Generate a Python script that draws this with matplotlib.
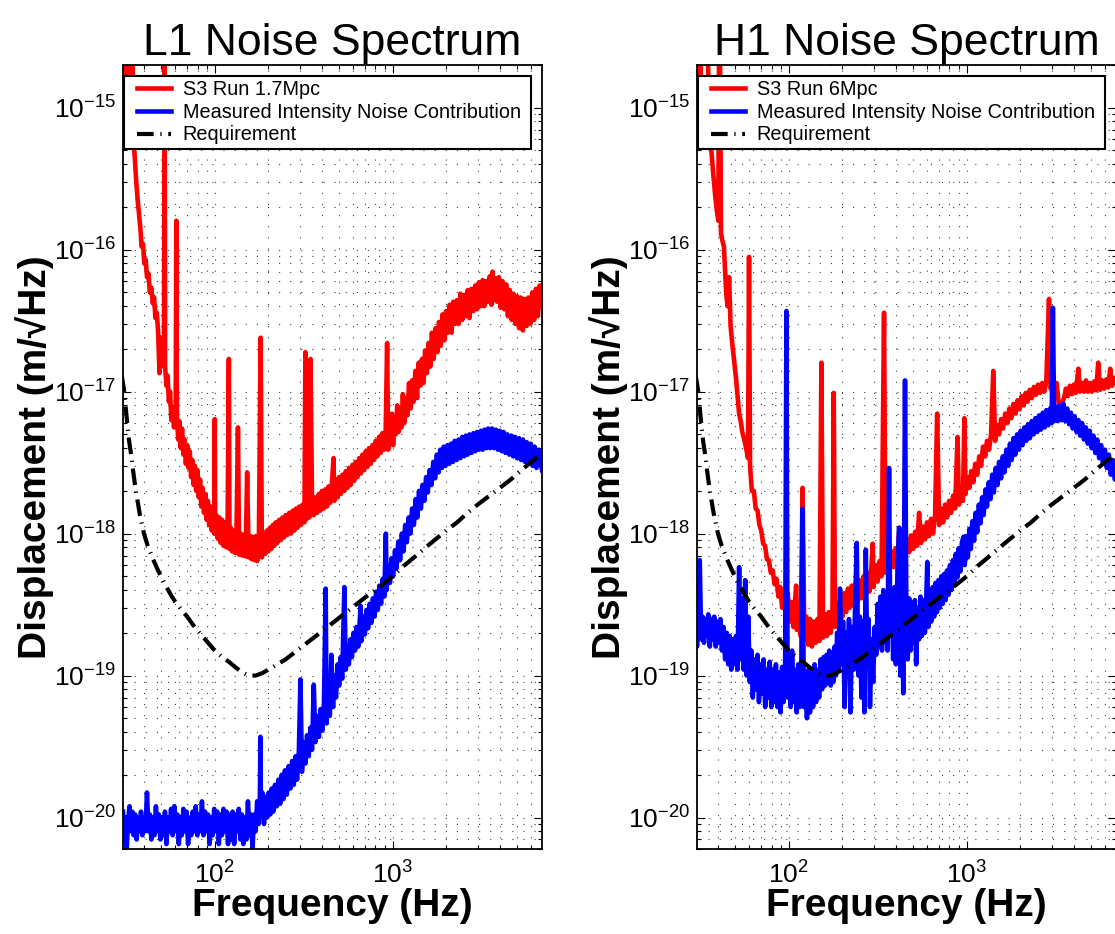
import matplotlib
matplotlib.use("Agg")
import matplotlib.pyplot as plt
from matplotlib.lines import Line2D
from matplotlib.legend_handler import HandlerLine2D
from matplotlib.ticker import FixedLocator, LogLocator, NullFormatter

plt.rcParams["font.family"] = ["Liberation Sans", "DejaVu Sans"]
plt.rcParams["mathtext.fontset"] = "custom"
plt.rcParams["mathtext.rm"] = "Liberation Sans"
plt.rcParams["mathtext.it"] = "Liberation Sans:italic"
plt.rcParams["mathtext.bf"] = "Liberation Sans:bold"

# (frequency Hz, displacement m/rtHz)
l1_s3 = [
    (31, 1.3e-15), (31.4, 3e-15), (32.3, 3e-15), (32.8, 1.2e-15), (33.3, 3e-15), (34.4, 3e-15),
    (35.0, 6e-16), (35.6, 4.2e-16), (36.2, 3.0e-16), (36.9, 2.2e-16), (37.5, 1.8e-16), (38.2, 1.4e-16),
    (38.8, 1.05e-16), (39.5, 1.1e-16), (40.2, 8.0e-17), (40.9, 8.5e-17), (41.6, 6.4e-17), (42.4, 6.8e-17),
    (43.2, 5.0e-17), (44.0, 5.4e-17), (44.8, 4.2e-17), (45.6, 4.6e-17), (46.4, 3.3e-17), (47.2, 3.6e-17),
    (48.0, 2.7e-17), (48.9, 1.35e-17), (49.5, 2.4e-17), (50.2, 2.0e-17), (51.0, 2.2e-17), (51.8, 1.5e-17),
    (52.2, 3e-15), (52.6, 1.5e-17), (53.5, 1.1e-17), (54.3, 1.3e-17), (55.2, 8.5e-18), (56.1, 1.0e-17),
    (57.0, 6.3e-18), (58.0, 7.8e-18), (59.0, 5.6e-18), (60.3, 7.0e-18), (60.8, 1.6e-16), (61.3, 6.5e-18),
    (62.3, 4.6e-18), (63.3, 6.2e-18), (64.4, 4.0e-18), (65.5, 5.5e-18), (66.6, 3.6e-18), (67.7, 4.6e-18),
    (68.8, 3.1e-18), (70, 4.2e-18), (71.2, 2.9e-18), (72.4, 3.8e-18), (73.6, 2.5e-18), (74.8, 3.3e-18),
    (76, 2.2e-18), (77.3, 3.0e-18), (78.6, 2.0e-18), (80, 2.8e-18), (81.3, 1.8e-18), (82.7, 2.4e-18),
    (84, 1.55e-18), (85.5, 2.1e-18), (87, 1.4e-18), (88.5, 1.9e-18), (90, 1.25e-18), (91.5, 1.7e-18),
    (93, 1.15e-18), (94.6, 1.55e-18), (96.2, 1.05e-18), (97.8, 1.45e-18), (99.5, 1.0e-18), (100, 6.4e-18),
    (100.5, 1.0e-18), (102, 1.35e-18), (104, 9.2e-19), (106, 1.3e-18), (108, 8.6e-19), (110, 1.25e-18),
    (112, 8.2e-19), (114, 1.2e-18), (116, 8.0e-19), (118, 1.15e-18), (120, 1.7e-17), (121, 7.8e-19),
    (123, 1.1e-18), (125, 7.5e-19), (127.5, 1.05e-18), (130, 7.3e-19), (132.5, 1.05e-18), (135, 5.6e-18),
    (137, 7.1e-19), (140, 1.0e-18), (143, 7.0e-19), (146, 9.8e-19), (149, 6.9e-19), (152, 2.7e-18),
    (155, 6.8e-19), (158, 9.6e-19), (161, 6.6e-19), (164, 9.5e-19), (167, 6.5e-19), (170, 9.6e-19),
    (173, 6.4e-19), (177, 9.6e-19), (181, 2.4e-17), (184, 6.8e-19), (188, 1.0e-18), (192, 7.2e-19),
    (196, 1.05e-18), (200, 7.5e-19), (204, 1.1e-18), (208, 7.8e-19), (212, 1.15e-18), (216, 8.2e-19),
    (220, 1.2e-18), (225, 8.6e-19), (230, 1.25e-18), (235, 9.0e-19), (240, 1.3e-18), (245, 9.4e-19),
    (250, 1.35e-18), (256, 9.8e-19), (262, 1.4e-18), (268, 1.0e-18), (274, 1.45e-18), (280, 1.05e-18),
    (286, 1.5e-18), (292, 1.1e-18), (298, 1.55e-18), (305, 1.15e-18), (312, 1.6e-18), (319, 1.2e-18),
    (323, 1.9e-17), (326, 1.25e-18), (333, 1.65e-18), (340, 1.3e-18), (345, 1.7e-17), (352, 1.7e-18),
    (360, 1.35e-18), (368, 1.8e-18), (376, 1.4e-18), (384, 1.9e-18), (392, 1.45e-18), (400, 2.0e-18),
    (409, 1.5e-18), (418, 2.05e-18), (427, 1.55e-18), (436, 2.15e-18), (445, 1.65e-18), (455, 2.25e-18),
    (465, 3.4e-18), (470, 1.7e-18), (480, 2.4e-18), (490, 1.8e-18), (500, 2.5e-18), (511, 1.9e-18),
    (522, 2.6e-18), (533, 2.0e-18), (545, 2.75e-18), (557, 2.1e-18), (569, 2.9e-18), (581, 2.2e-18),
    (594, 3.05e-18), (607, 2.35e-18), (620, 3.2e-18), (634, 2.5e-18), (648, 3.4e-18), (662, 2.65e-18),
    (676, 3.6e-18), (690, 2.8e-18), (705, 3.8e-18), (720, 2.95e-18), (736, 4.0e-18), (752, 3.1e-18),
    (768, 4.2e-18), (785, 3.3e-18), (802, 4.5e-18), (820, 3.5e-18), (838, 4.8e-18), (856, 3.7e-18),
    (875, 5.1e-18), (894, 3.9e-18), (913, 5.4e-18), (930, 2.2e-17), (943, 3.9e-18), (960, 6.2e-18),
    (975, 4.6e-18), (990, 7.0e-18), (1005, 4.2e-18), (1020, 6.6e-18), (1040, 5.0e-18), (1060, 8.0e-18),
    (1080, 5.2e-18), (1100, 7.4e-18), (1120, 5.6e-18), (1140, 9.6e-18), (1160, 6.0e-18), (1185, 9.0e-18),
    (1210, 6.8e-18), (1235, 1.15e-17), (1260, 7.6e-18), (1285, 1.2e-17), (1310, 8.5e-18), (1340, 1.4e-17),
    (1370, 9.0e-18), (1400, 1.6e-17), (1430, 1.1e-17), (1460, 1.7e-17), (1490, 1.15e-17), (1520, 1.95e-17),
    (1555, 1.35e-17), (1590, 2.2e-17), (1625, 1.5e-17), (1660, 2.6e-17), (1700, 1.7e-17), (1740, 2.8e-17),
    (1780, 1.9e-17), (1820, 3.1e-17), (1860, 2.1e-17), (1905, 3.5e-17), (1950, 2.3e-17), (1995, 3.7e-17),
    (2040, 2.6e-17), (2090, 4.1e-17), (2140, 2.6e-17), (2190, 4.3e-17), (2240, 3.0e-17), (2290, 4.4e-17),
    (2345, 3.0e-17), (2400, 4.9e-17), (2460, 3.2e-17), (2520, 4.8e-17), (2580, 3.4e-17), (2640, 5.2e-17),
    (2700, 3.3e-17), (2770, 5.3e-17), (2840, 3.7e-17), (2910, 5.6e-17), (2980, 3.8e-17), (3050, 5.9e-17),
    (3120, 4.0e-17), (3200, 6.1e-17), (3270, 4.0e-17), (3350, 6.0e-17), (3430, 4.3e-17), (3510, 6.5e-17),
    (3590, 4.1e-17), (3640, 7.0e-17), (3690, 4.4e-17), (3770, 6.3e-17), (3860, 4.3e-17), (3950, 6.4e-17),
    (4040, 3.9e-17), (4140, 6.0e-17), (4240, 3.8e-17), (4340, 5.7e-17), (4440, 3.4e-17), (4550, 5.2e-17),
    (4660, 3.2e-17), (4770, 4.9e-17), (4890, 3.0e-17), (5000, 4.7e-17), (5130, 2.8e-17), (5250, 4.6e-17),
    (5380, 2.7e-17), (5510, 4.5e-17), (5650, 2.9e-17), (5790, 4.6e-17), (5930, 3.0e-17), (6080, 5.0e-17),
    (6230, 3.2e-17), (6380, 5.3e-17), (6540, 3.4e-17), (6700, 5.6e-17), (6900, 4.0e-17),
]

l1_intensity = [
    (30.5, 1.1e-20), (31, 7e-21), (31.5, 1.0e-20), (32, 6.0e-21), (32.6, 9.5e-21), (33.2, 1.2e-20),
    (33.8, 8e-21), (34.4, 1.1e-20), (35, 7.5e-21), (35.7, 1.05e-20), (36.4, 7e-21), (37.1, 1.0e-20),
    (37.8, 8e-21), (38.5, 1.1e-20), (39.2, 7.5e-21), (40, 1.0e-20), (40.8, 8e-21), (41.6, 1.5e-20),
    (42.4, 8e-21), (43.2, 1.05e-20), (44, 7e-21), (44.9, 1.0e-20), (45.8, 7.5e-21), (46.7, 1.2e-20),
    (47.6, 8e-21), (48.5, 1.05e-20), (49.5, 7e-21), (50.5, 1.0e-20), (51.5, 7.5e-21), (52.5, 1.1e-20),
    (53.5, 6.5e-21), (54.6, 1.0e-20), (55.7, 8e-21), (56.8, 1.15e-20), (58, 7.5e-21), (59.2, 1.2e-20),
    (60.4, 8e-21), (61.6, 1.05e-20), (62.8, 6.5e-21), (64, 1.0e-20), (65.3, 7.5e-21), (66.6, 1.15e-20),
    (68, 8e-21), (69.4, 1.1e-20), (70.8, 6.5e-21), (72.2, 1.0e-20), (73.7, 7.5e-21), (75.2, 1.1e-20),
    (76.7, 8e-21), (78.2, 1.2e-20), (79.8, 7.5e-21), (81.4, 1.05e-20), (83, 8e-21), (84.7, 1.3e-20),
    (86.4, 7.5e-21), (88.1, 1.1e-20), (89.9, 8e-21), (91.7, 1.05e-20), (93.5, 6.5e-21), (95.4, 1.0e-20),
    (97.3, 7.5e-21), (99.3, 1.15e-20), (101.3, 8e-21), (103.3, 1.1e-20), (105.4, 6.5e-21), (107.5, 1.05e-20),
    (109.7, 7.5e-21), (111.9, 1.15e-20), (114.1, 8e-21), (116.4, 1.1e-20), (118.7, 6.5e-21), (121, 1.05e-20),
    (123.5, 7e-21), (126, 1.1e-20), (128.5, 6.5e-21), (131, 1.05e-20), (133.7, 8e-21), (136.4, 1.15e-20),
    (139.1, 7e-21), (141.9, 1.05e-20), (144.7, 6.5e-21), (147.6, 1.0e-20), (150.6, 7e-21), (153.6, 1.3e-20),
    (156.7, 7.5e-21), (159.8, 1.05e-20), (163, 6e-21), (166.3, 1.05e-20), (169.6, 8e-21), (173, 1.3e-20),
    (176.5, 9e-21), (179.3, 1.4e-20), (180.5, 3.7e-20), (181.7, 1.1e-20), (185, 1.5e-20), (189, 9e-21),
    (193, 1.4e-20), (197, 1.0e-20), (201, 1.5e-20), (205, 1.05e-20), (209, 1.6e-20), (213, 1.1e-20),
    (218, 1.7e-20), (223, 1.2e-20), (228, 1.85e-20), (233, 1.25e-20), (238, 2.0e-20), (243, 1.35e-20),
    (248, 2.15e-20), (254, 1.45e-20), (260, 2.3e-20), (266, 1.6e-20), (272, 2.5e-20), (278, 1.7e-20),
    (284, 2.7e-20), (290, 1.85e-20), (297, 3.0e-20), (303, 9.4e-20), (309, 2.1e-20), (316, 3.4e-20),
    (323, 2.4e-20), (330, 3.8e-20), (337, 2.7e-20), (345, 4.3e-20), (352, 3.0e-20), (360, 8.6e-20),
    (368, 3.4e-20), (376, 5.2e-20), (385, 3.7e-20), (393, 5.8e-20), (402, 4.1e-20), (411, 6.5e-20),
    (420, 4.1e-19), (425, 4.6e-20), (434, 7.5e-20), (443, 5.2e-20), (452, 1.4e-19), (462, 6.0e-20),
    (470, 1.0e-19), (480, 7e-20), (490, 1.2e-19), (500, 8.5e-20), (510, 1.35e-19), (520, 9.5e-20),
    (535, 4.2e-19), (545, 1.1e-19), (556, 1.6e-19), (567, 1.2e-19), (578, 1.8e-19), (590, 1.35e-19),
    (602, 2.0e-19), (614, 1.5e-19), (626, 2.2e-19), (640, 1.6e-19), (660, 3.1e-19), (668, 1.75e-19),
    (682, 2.6e-19), (697, 1.95e-19), (712, 2.9e-19), (727, 2.15e-19), (742, 3.2e-19), (758, 2.35e-19),
    (774, 3.5e-19), (790, 2.6e-19), (807, 3.9e-19), (824, 2.9e-19), (842, 4.3e-19), (860, 3.2e-19),
    (878, 4.8e-19), (897, 3.6e-19), (915, 1.0e-18), (925, 4.0e-19), (945, 6.0e-19), (965, 4.5e-19),
    (985, 6.7e-19), (1005, 5.0e-19), (1030, 7.6e-19), (1050, 5.7e-19), (1075, 8.8e-19), (1100, 6.5e-19),
    (1125, 1.0e-18), (1150, 7.5e-19), (1175, 1.15e-18), (1200, 8.7e-19), (1230, 1.3e-18), (1255, 1.0e-18),
    (1285, 1.5e-18), (1315, 1.15e-18), (1345, 1.75e-18), (1375, 1.3e-18), (1405, 2.0e-18), (1440, 1.5e-18),
    (1470, 2.2e-18), (1505, 1.7e-18), (1540, 2.5e-18), (1575, 1.95e-18), (1610, 2.8e-18), (1650, 2.2e-18),
    (1690, 3.2e-18), (1730, 2.45e-18), (1770, 3.6e-18), (1810, 2.7e-18), (1850, 3.9e-18), (1890, 2.9e-18),
    (1935, 4.1e-18), (1980, 3.0e-18), (2030, 4.2e-18), (2080, 3.1e-18), (2130, 4.3e-18), (2180, 3.2e-18),
    (2230, 4.5e-18), (2290, 3.3e-18), (2345, 4.6e-18), (2400, 3.4e-18), (2460, 4.8e-18), (2520, 3.5e-18),
    (2580, 4.9e-18), (2640, 3.6e-18), (2700, 5.0e-18), (2770, 3.7e-18), (2840, 5.1e-18), (2910, 3.8e-18),
    (2980, 5.2e-18), (3050, 3.9e-18), (3130, 5.3e-18), (3200, 3.9e-18), (3280, 5.4e-18), (3360, 4.0e-18),
    (3440, 5.5e-18), (3530, 4.0e-18), (3620, 5.5e-18), (3710, 4.0e-18), (3800, 5.4e-18), (3900, 3.9e-18),
    (4000, 5.3e-18), (4100, 3.8e-18), (4200, 5.2e-18), (4300, 3.7e-18), (4410, 5.0e-18), (4520, 3.6e-18),
    (4630, 4.9e-18), (4750, 3.5e-18), (4870, 4.8e-18), (5000, 3.4e-18), (5130, 4.7e-18), (5260, 3.3e-18),
    (5390, 4.6e-18), (5530, 3.2e-18), (5670, 4.4e-18), (5810, 3.1e-18), (5960, 4.3e-18), (6110, 3.0e-18),
    (6270, 4.1e-18), (6430, 2.9e-18), (6600, 3.9e-18), (6900, 2.8e-18),
]

h1_s3 = [
    (30, 5.3e-16), (30.3, 4e-15), (31.2, 4e-15), (31.8, 1.5e-15), (32.5, 4e-15), (34.8, 4e-15),
    (35.5, 1.2e-15), (36.3, 6e-16), (37.1, 4.3e-16), (37.8, 3.2e-16), (38.6, 2.4e-16), (39.4, 1.9e-16),
    (40.2, 1.6e-16), (40.6, 4e-15), (41.0, 4e-15), (41.6, 1.3e-16), (42.4, 1.15e-16), (43.2, 1.05e-16),
    (44.0, 6.5e-17), (44.5, 4.9e-17), (45.3, 4e-17), (46.2, 6.4e-17), (47.1, 2.9e-17), (48.1, 2.2e-17),
    (49.2, 1.7e-17), (50.5, 1.25e-17), (51.5, 9.5e-18), (52.6, 7.0e-18), (53.7, 6.2e-18), (54.8, 5.2e-18),
    (56.2, 4.6e-18), (57.6, 4.0e-18), (59, 3.4e-18), (59.8, 8.9e-17), (60.6, 3.0e-18), (62, 2.0e-18),
    (63.6, 2.0e-18), (65.2, 1.5e-18), (66.8, 1.45e-18), (68.4, 1.15e-18), (70, 1.05e-18), (71.8, 8.5e-19),
    (73.6, 8.2e-19), (75.4, 6.6e-19), (77.3, 6.5e-19), (79.2, 5.3e-19), (81.2, 5.5e-19), (83.2, 4.4e-19),
    (85.3, 4.8e-19), (87.4, 3.6e-19), (89.6, 4.2e-19), (91.8, 3.0e-19), (94.1, 3.9e-19), (96.4, 2.6e-19),
    (98.8, 3.8e-19), (101, 2.4e-19), (103.5, 3.3e-19), (106, 2.2e-19), (108.5, 3.4e-19), (110, 4.3e-19),
    (111, 2.1e-19), (113.8, 2.9e-19), (116.6, 1.9e-19), (119.5, 2.1e-18), (122.4, 1.8e-19), (125.4, 2.6e-19),
    (128.5, 1.65e-19), (131.7, 2.5e-19), (134.9, 1.6e-19), (138.2, 2.4e-19), (141.6, 1.7e-19), (145, 2.5e-19),
    (148.6, 1.75e-19), (152.5, 1.6e-17), (156, 1.85e-19), (160, 2.7e-19), (164, 1.9e-19), (168, 2.8e-19),
    (172, 2.0e-19), (176, 2.9e-19), (179, 9.8e-18), (182, 2.2e-19), (186, 3.2e-19), (190, 2.4e-19),
    (195, 3.5e-19), (200, 2.6e-19), (205, 3.8e-19), (210, 2.8e-19), (215, 4.1e-19), (220, 3.0e-19),
    (226, 4.3e-19), (232, 3.1e-19), (238, 4.5e-19), (244, 3.3e-19), (250, 4.7e-19), (256, 3.5e-19),
    (263, 5.0e-19), (270, 3.7e-19), (277, 5.3e-19), (284, 3.9e-19), (291, 5.6e-19), (296, 8.5e-19),
    (300, 4.2e-19), (308, 6.0e-19), (316, 4.6e-19), (324, 6.4e-19), (332, 5.0e-19), (343, 3.6e-17),
    (350, 5.3e-19), (359, 7.2e-19), (368, 5.5e-19), (378, 7.5e-19), (388, 5.8e-19), (398, 7.9e-19),
    (408, 6.2e-19), (418, 1.1e-18), (428, 6.6e-19), (440, 8.7e-19), (451, 7.0e-19), (463, 9.2e-19),
    (475, 7.4e-19), (487, 9.7e-19), (500, 7.8e-19), (513, 1.03e-18), (526, 8.2e-19), (540, 1.4e-18),
    (554, 8.6e-19), (568, 1.12e-18), (583, 9.1e-19), (598, 1.2e-18), (614, 9.6e-19), (630, 1.27e-18),
    (647, 1.0e-18), (664, 1.35e-18), (682, 7e-18), (700, 1.15e-18), (718, 1.5e-18), (737, 1.2e-18),
    (756, 1.6e-18), (776, 1.3e-18), (796, 1.7e-18), (817, 1.4e-18), (838, 1.85e-18), (860, 1.5e-18),
    (888, 4.8e-18), (905, 1.6e-18), (928, 2.1e-18), (952, 1.7e-18), (970, 6.5e-18), (985, 1.9e-18),
    (1010, 2.5e-18), (1035, 2.1e-18), (1060, 2.75e-18), (1090, 2.3e-18), (1115, 3.1e-18), (1145, 2.6e-18),
    (1175, 3.5e-18), (1205, 3.0e-18), (1235, 4.1e-18), (1270, 3.5e-18), (1300, 4.5e-18), (1335, 3.9e-18),
    (1370, 5.0e-18), (1410, 1.4e-17), (1445, 4.5e-18), (1480, 5.8e-18), (1520, 5.0e-18), (1560, 6.4e-18),
    (1600, 5.5e-18), (1645, 7.0e-18), (1690, 6.0e-18), (1735, 7.6e-18), (1780, 6.5e-18), (1830, 8.2e-18),
    (1880, 7.0e-18), (1930, 8.7e-18), (1980, 7.5e-18), (2035, 9.3e-18), (2090, 8.0e-18), (2145, 9.8e-18),
    (2200, 8.5e-18), (2260, 1.03e-17), (2320, 9.0e-18), (2385, 1.08e-17), (2450, 9.5e-18), (2515, 1.12e-17),
    (2585, 9.8e-18), (2655, 1.15e-17), (2730, 1.0e-17), (2800, 1.18e-17), (2900, 4.5e-17), (2960, 1.05e-17),
    (3040, 1.2e-17), (3120, 1.05e-17), (3200, 1.15e-17), (3280, 8.5e-18), (3350, 7.0e-18), (3430, 8.3e-18),
    (3520, 9.0e-18), (3610, 1.05e-17), (3700, 9.3e-18), (3800, 1.1e-17), (3900, 9.6e-18), (4000, 1.12e-17),
    (4100, 9.8e-18), (4240, 1.45e-17), (4330, 1.0e-17), (4440, 1.15e-17), (4560, 1.0e-17), (4680, 1.2e-17),
    (4800, 1.0e-17), (4930, 1.15e-17), (5060, 1.0e-17), (5200, 1.18e-17), (5340, 1.02e-17), (5480, 1.6e-17),
    (5620, 1.03e-17), (5770, 1.2e-17), (5920, 1.05e-17), (6080, 1.22e-17), (6240, 1.07e-17), (6400, 1.45e-17),
    (6560, 1.1e-17), (6750, 1.25e-17), (7000, 1.2e-17),
]

h1_intensity = [
    (30, 2.6e-19), (30.5, 1.6e-19), (31, 2.4e-19), (31.6, 6.5e-19), (32.2, 1.8e-19), (32.8, 2.6e-19),
    (33.4, 1.7e-19), (34, 2.5e-19), (34.6, 1.9e-19), (35.3, 2.7e-19), (36, 1.6e-19), (36.7, 2.5e-19),
    (37.4, 1.8e-19), (38.1, 2.6e-19), (38.9, 1.6e-19), (39.7, 2.4e-19), (40.5, 1.7e-19), (41.3, 2.5e-19),
    (42.1, 1.5e-19), (43, 2.2e-19), (43.9, 1.3e-19), (44.8, 2.0e-19), (45.7, 1.2e-19), (46.6, 1.9e-19),
    (47.5, 1.1e-19), (48.5, 1.8e-19), (49.5, 1.2e-19), (50.5, 1.9e-19), (51.5, 1.1e-19), (52.6, 5.8e-19),
    (53.6, 1.3e-19), (54.7, 3.5e-19), (55.8, 1.1e-19), (56.9, 4.7e-19), (58, 1.0e-19), (59.2, 2.6e-19),
    (60.4, 9e-20), (61.6, 1.5e-19), (62.8, 7e-20), (64.1, 1.3e-19), (65.4, 8e-20), (66.7, 1.4e-19),
    (68, 6.5e-20), (69.4, 1.2e-19), (70.8, 7.5e-20), (72.2, 1.3e-19), (73.7, 6e-20), (75.2, 1.1e-19),
    (76.7, 7e-20), (78.2, 1.25e-19), (79.8, 6e-20), (81.4, 1.1e-19), (83, 6.5e-20), (84.7, 1.2e-19),
    (86.4, 6e-20), (88.1, 1.05e-19), (89.9, 5.5e-20), (91.7, 1.15e-19), (93.5, 6.5e-20), (95.4, 1.1e-19),
    (97, 3.7e-17), (98.5, 7e-20), (100.4, 1.2e-19), (102.4, 6e-20), (104.4, 1.5e-19), (106.5, 6.5e-20),
    (108.6, 1.1e-19), (110.8, 5.5e-20), (113, 1.2e-19), (115.3, 6e-20), (117.6, 1.1e-19), (119.5, 1.5e-18),
    (121.5, 6e-20), (124, 1.0e-19), (126.5, 5e-20), (129, 1.1e-19), (131.6, 5.5e-20), (134.2, 1.05e-19),
    (136.9, 6e-20), (139.6, 1.2e-19), (142.4, 6.5e-20), (145.2, 1.1e-19), (148.1, 7e-20), (151, 1.3e-19),
    (154, 8e-20), (157, 1.35e-19), (160, 8.5e-20), (163, 1.4e-19), (166, 9e-20), (169, 1.5e-19),
    (172, 8.5e-20), (175, 1.4e-19), (178, 9e-20), (181, 1.6e-19), (184, 1.0e-19), (187, 2.0e-19),
    (190, 1.1e-19), (194, 4.1e-19), (198, 1.2e-19), (202, 2.4e-19), (206, 6e-20), (210, 2.0e-19),
    (214, 1.0e-19), (218, 2.5e-19), (222, 5.5e-20), (227, 2.2e-19), (232, 1.1e-19), (236, 3.2e-19),
    (241, 8.6e-19), (246, 1.0e-19), (251, 2.6e-19), (256, 7e-20), (261, 2.4e-19), (266, 5.5e-20),
    (271, 7.7e-19), (276, 1.2e-19), (281, 2.5e-19), (286, 6e-20), (292, 1.8e-19), (298, 9e-20),
    (304, 2.2e-19), (310, 1.4e-19), (316, 3.2e-19), (322, 1.6e-19), (328, 3.6e-19), (334, 1.5e-19),
    (340, 4.0e-19), (346, 1.7e-19), (352, 3.5e-19), (359, 1.5e-19), (366, 2.9e-18), (372, 2.0e-19),
    (379, 3.8e-19), (386, 1.3e-19), (393, 4.2e-19), (400, 1.2e-19), (408, 5.5e-19), (417, 1.1e-18),
    (424, 1.0e-19), (432, 4.5e-19), (440, 7.5e-20), (450, 1.2e-17), (458, 2.5e-19), (466, 1.3e-19),
    (475, 3.5e-19), (484, 1.5e-19), (493, 3.2e-19), (502, 1.7e-19), (511, 3.4e-19), (520, 1.2e-19),
    (530, 3.0e-19), (540, 1.8e-19), (550, 3.6e-19), (560, 1.9e-19), (571, 3.4e-19), (582, 2.0e-19),
    (593, 3.6e-19), (600, 6.3e-19), (609, 2.2e-19), (620, 3.9e-19), (632, 2.4e-19), (644, 4.2e-19),
    (656, 2.6e-19), (668, 4.5e-19), (680, 2.8e-19), (693, 4.7e-19), (706, 3.0e-19), (719, 5.0e-19),
    (733, 3.2e-19), (747, 5.2e-19), (761, 3.4e-19), (775, 5.5e-19), (790, 3.7e-19), (805, 6.0e-19),
    (820, 4.0e-19), (836, 6.5e-19), (852, 4.4e-19), (868, 7.2e-19), (885, 4.9e-19), (902, 7.9e-19),
    (920, 5.4e-19), (940, 8.7e-19), (960, 9.5e-19), (975, 6.0e-19), (995, 9.6e-19), (1015, 6.8e-19),
    (1035, 1.08e-18), (1055, 7.8e-19), (1075, 1.22e-18), (1100, 8.9e-19), (1120, 1.4e-18), (1145, 1.02e-18),
    (1170, 1.6e-18), (1195, 1.18e-18), (1220, 1.8e-18), (1245, 1.35e-18), (1275, 2.05e-18), (1300, 1.55e-18),
    (1330, 2.3e-18), (1360, 1.75e-18), (1390, 2.6e-18), (1420, 1.95e-18), (1455, 2.9e-18), (1490, 2.2e-18),
    (1520, 3.2e-18), (1560, 2.45e-18), (1595, 3.5e-18), (1630, 2.7e-18), (1670, 3.9e-18), (1710, 3.0e-18),
    (1750, 4.3e-18), (1790, 3.3e-18), (1830, 4.7e-18), (1875, 3.6e-18), (1920, 5.0e-18), (1965, 3.9e-18),
    (2010, 5.3e-18), (2060, 4.2e-18), (2110, 5.6e-18), (2160, 4.5e-18), (2210, 5.9e-18), (2265, 4.7e-18),
    (2320, 6.2e-18), (2375, 5.0e-18), (2430, 6.5e-18), (2490, 5.2e-18), (2550, 6.8e-18), (2610, 5.4e-18),
    (2675, 7.1e-18), (2740, 5.6e-18), (2800, 7.4e-18), (2870, 5.8e-18), (2940, 7.6e-18), (3000, 6.0e-18),
    (3050, 3.9e-17), (3100, 6.2e-18), (3180, 7.8e-18), (3250, 6.2e-18), (3330, 8.0e-18), (3410, 6.3e-18),
    (3500, 8.2e-18), (3580, 6.2e-18), (3670, 7.6e-18), (3760, 5.9e-18), (3850, 7.1e-18), (3940, 5.5e-18),
    (4040, 6.7e-18), (4140, 5.2e-18), (4240, 6.3e-18), (4340, 4.9e-18), (4450, 6.0e-18), (4560, 4.6e-18),
    (4670, 5.6e-18), (4790, 4.3e-18), (4910, 5.3e-18), (5030, 4.0e-18), (5150, 4.9e-18), (5280, 3.7e-18),
    (5410, 4.6e-18), (5550, 3.4e-18), (5690, 4.2e-18), (5830, 3.1e-18), (5980, 3.9e-18), (6130, 2.9e-18),
    (6290, 3.6e-18), (6450, 2.6e-18), (6620, 3.3e-18), (6800, 2.4e-18), (7000, 3.0e-18),
]

# requirement curve (same for both detectors)
req_freq = [30, 31, 32, 33, 34, 35, 36, 38, 40, 42, 45, 48, 52, 56, 60, 65, 70, 76, 82, 90,
            100, 110, 120, 130, 140, 150, 160, 170, 185, 200, 220, 250, 280, 320, 360, 400,
            450, 500, 560, 630, 700, 800, 900, 1000, 1150, 1300, 1500, 1700, 2000, 2300,
            2600, 3000, 3500, 4000, 4600, 5300, 6000, 7000]
req_disp = [1.3e-17, 1.0e-17, 6.5e-18, 4.5e-18, 3.5e-18, 2.6e-18, 2.0e-18, 1.35e-18, 1.0e-18,
            8.2e-19, 6.6e-19, 5.5e-19, 4.5e-19, 3.8e-19, 3.3e-19, 2.9e-19, 2.6e-19, 2.25e-19,
            2.0e-19, 1.75e-19, 1.5e-19, 1.35e-19, 1.25e-19, 1.15e-19, 1.07e-19, 1.02e-19,
            1.0e-19, 1.0e-19, 1.04e-19, 1.1e-19, 1.18e-19, 1.3e-19, 1.45e-19, 1.65e-19,
            1.85e-19, 2.05e-19, 2.3e-19, 2.55e-19, 2.85e-19, 3.2e-19, 3.55e-19, 4.0e-19,
            4.5e-19, 5.0e-19, 5.9e-19, 6.7e-19, 7.8e-19, 8.9e-19, 1.05e-18, 1.2e-18, 1.38e-18,
            1.6e-18, 1.85e-18, 2.1e-18, 2.4e-18, 2.8e-18, 3.2e-18, 3.7e-18]

x_major = [1e2, 1e3]
y_major = [1e-20, 1e-19, 1e-18, 1e-17, 1e-16, 1e-15]

panels = [
    ("L1 Noise Spectrum", "S3 Run 1.7Mpc", l1_s3, l1_intensity),
    ("H1 Noise Spectrum", "S3 Run 6Mpc", h1_s3, h1_intensity),
]

W, H = 1115, 934
fig = plt.figure(figsize=(W / 100, H / 100), dpi=100)
lefts = [123, 697]

for (title, s3_label, s3, inten), left in zip(panels, lefts):
    ax = fig.add_axes([left / W, 85 / H, 419 / W, 784 / H])
    f1, d1 = zip(*s3)
    f2, d2 = zip(*inten)
    ax.plot(f1, d1, color="#ff0000", lw=3.3, label=s3_label)
    ax.plot(f2, d2, color="#0000ff", lw=3.3, label="Measured Intensity Noise Contribution")
    ax.plot(req_freq, req_disp, color="k", lw=3, ls=(0, (4, 1.6, 0.3, 1.6)), label="Requirement")

    ax.set_xscale("log")
    ax.set_yscale("log")
    ax.set_xlim(30.5, 6900)
    ax.set_ylim(6e-21, 2e-15)
    ax.xaxis.set_major_locator(FixedLocator(x_major))
    ax.yaxis.set_major_locator(FixedLocator(y_major))
    ax.xaxis.set_minor_locator(LogLocator(base=10, subs=range(2, 10), numticks=20))
    ax.yaxis.set_minor_locator(LogLocator(base=10, subs=range(2, 10), numticks=20))
    ax.xaxis.set_minor_formatter(NullFormatter())
    ax.yaxis.set_minor_formatter(NullFormatter())

    ax.grid(True, which="both", color="0.25", lw=0.8, ls=(0, (1, 9)))
    ax.tick_params(which="both", direction="in", top=True, right=True, labelsize=19, width=0.8)
    ax.tick_params(which="major", length=6)
    ax.tick_params(which="minor", length=3)
    ax.tick_params(axis="x", pad=9)
    ax.tick_params(axis="y", pad=5)
    for sp in ax.spines.values():
        sp.set_linewidth(1.3)

    ax.set_title(title, fontsize=32, pad=7)
    ax.set_xlabel("Frequency (Hz)", fontsize=28, fontweight="bold")
    ax.xaxis.set_label_coords(0.5, -0.05)
    ax.set_ylabel("Displacement (m/\u221aHz)", fontsize=28, fontweight="bold")
    ax.yaxis.set_label_coords(-0.165, 0.5)

    leg = ax.legend(loc="upper left", bbox_to_anchor=(0.002, 0.986, 0.971, 0), mode="expand",
                    borderaxespad=0, fontsize=14.3, fancybox=False, framealpha=1, edgecolor="k",
                    handlelength=2.15, handletextpad=0.6, labelspacing=0.18, borderpad=0.22,
                    handler_map={Line2D: HandlerLine2D(xpad=0.45)})
    leg.get_frame().set_linewidth(1.5)

fig.savefig("out.png", dpi=100)
